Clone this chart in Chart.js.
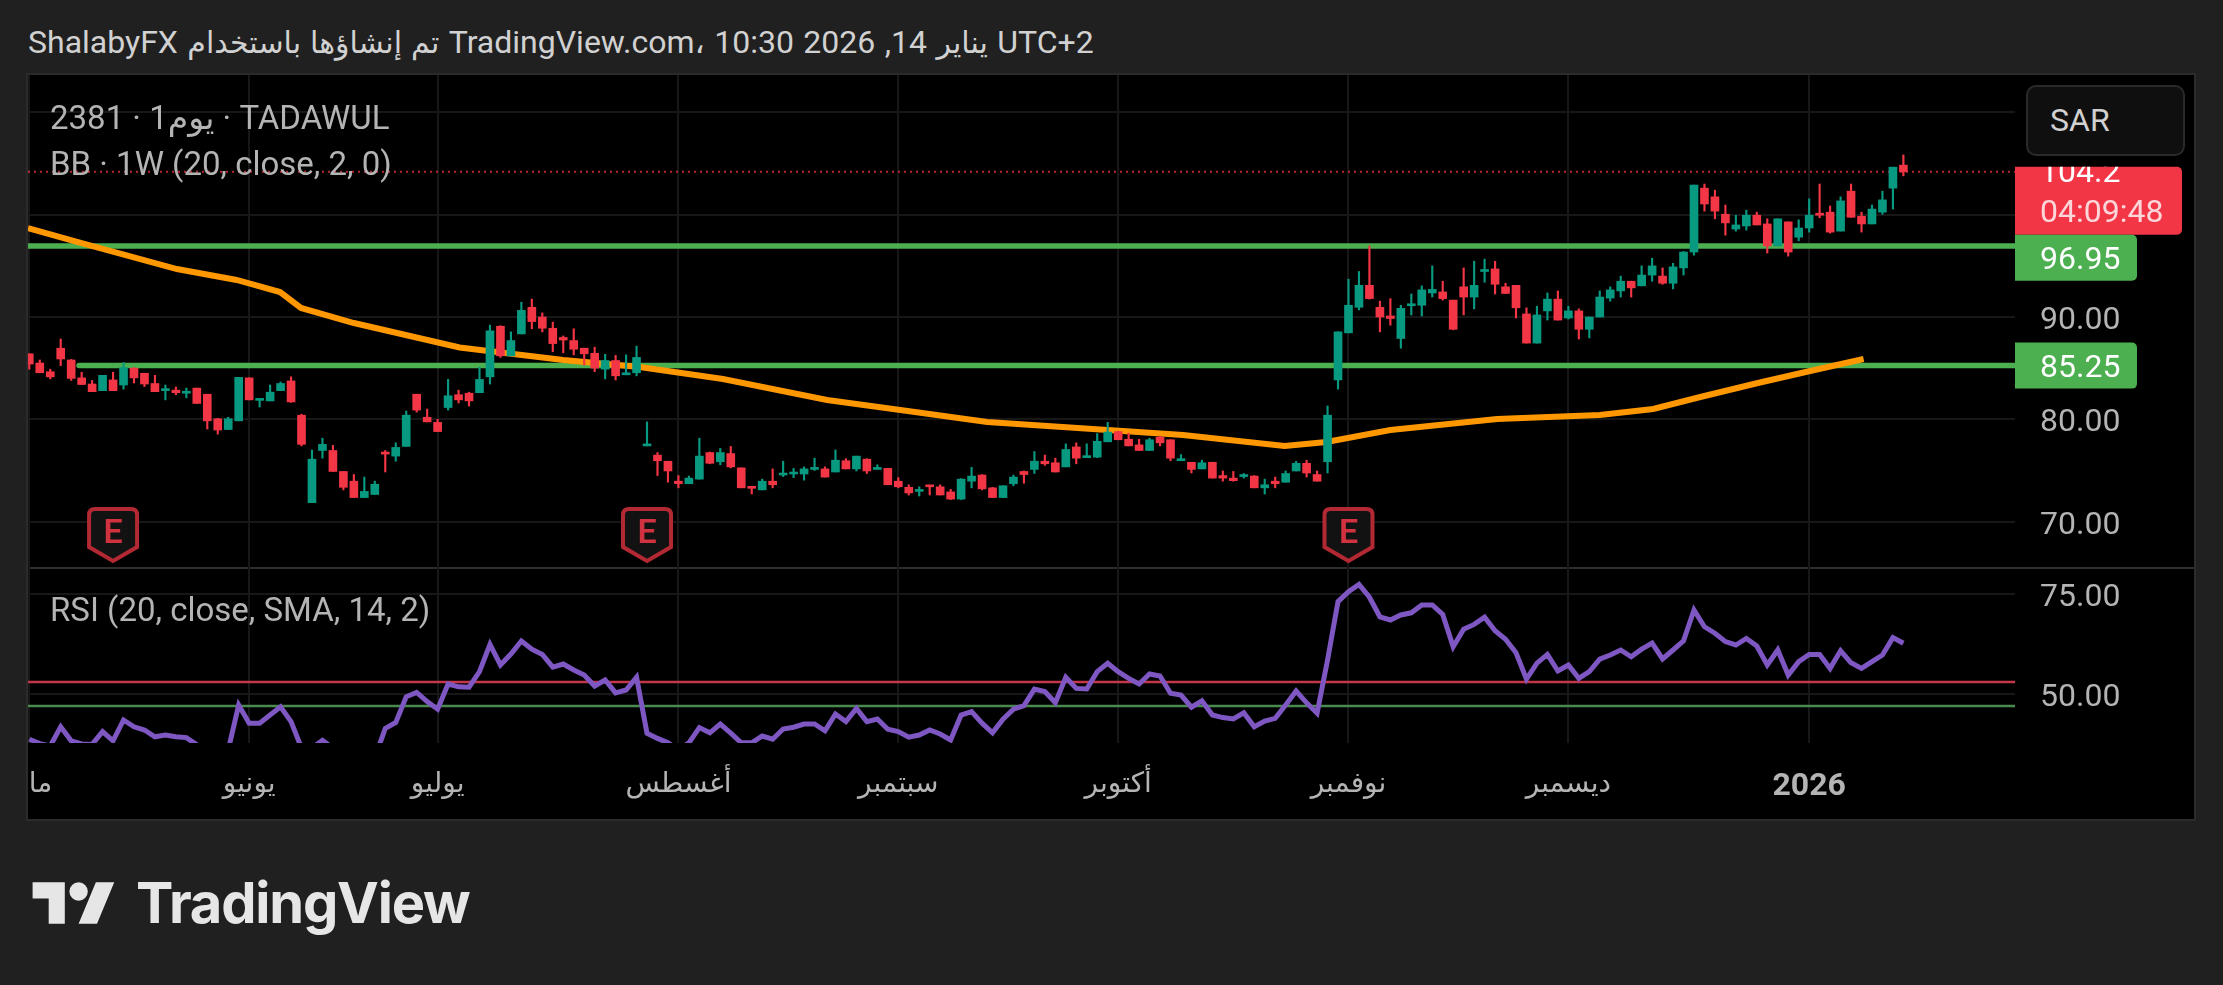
<!DOCTYPE html>
<html>
<head>
<meta charset="utf-8">
<title>2381 TADAWUL</title>
<script src="https://cdn.jsdelivr.net/npm/chart.js@4"></script>
<style>
    body { margin: 0; width: 2223px; height: 985px; background: #202020; overflow: hidden; font-family: Roboto, "DejaVu Sans", sans-serif; position: relative; }
    #titulo { position: absolute; left: 28px; top: 22px; font-size: 32px; line-height: 40px; color: #d1d1d1; white-space: nowrap; direction: ltr; word-spacing: 1.5px; }
    #titulo span { unicode-bidi: isolate; }
    #titulo .ar { font-size: 30px; }
    #panel { position: absolute; left: 26px; top: 73px; width: 2170px; height: 748px; background: #000; border: 2px solid #2b2b2b; box-sizing: border-box; }
    canvas { position: absolute; left: 28px; }
    #precio { top: 75px; }
    #rsi { top: 567px; }
    .leyenda { position: absolute; left: 50px; font-size: 33px; line-height: 40px; color: #b4b4b4; white-space: nowrap; direction: ltr; }
    #sar { position: absolute; left: 2026px; top: 85px; width: 159px; height: 71px; box-sizing: border-box; background: #0f0f0f; border: 2px solid #2a2a2a; border-radius: 10px; color: #d1d1d1; font-size: 32px; line-height: 67px; padding-left: 22px; }
    #logo { position: absolute; left: 32px; top: 880px; height: 46px; display: flex; align-items: center; color: #e6e6e6; }
    #logo span { font-family: Inter, Roboto, sans-serif; font-weight: 700; font-size: 56px; margin-left: 20px; letter-spacing: -1.2px; }
</style>
</head>
<body>
<div id="titulo"><span>ShalabyFX</span> <span class="ar">تم إنشاؤها باستخدام</span> <span>TradingView.com،</span> <span>10:30 2026 ,14</span> <span class="ar">يناير</span> <span>UTC+2</span></div>
<div id="panel"></div>
<canvas id="precio" width="2166" height="492"></canvas>
<canvas id="rsi" width="2166" height="252"></canvas>
<div class="leyenda" style="top:98px">2381 · 1يوم · TADAWUL</div>
<div class="leyenda" style="top:144px">BB · 1W (20, close, 2, 0)</div>
<div class="leyenda" style="top:590px">RSI (20, close, SMA, 14, 2)</div>
<div id="sar">SAR</div>
<div id="logo">
    <svg width="84" height="46" viewBox="0 3 36 20"><path fill="#e6e6e6" d="M14 22H7V11H0V4h14v18zM28 22h-8l7.5-18h8L28 22z"/><circle fill="#e6e6e6" cx="20" cy="8" r="4"/></svg>
    <span>TradingView</span>
</div>

<script>
const opens = [
    86.4,85.5,84.65,86.95,85.8,84.05,83.45,82.8,83.85,83.35,
    85.0,84.5,83.5,82.8,82.85,82.55,83.05,82.45,80.05,79.0,
    79.85,84.05,81.85,81.8,82.8,83.75,80.4,71.85,76.95,76.95,
    74.9,73.95,72.35,72.65,76.75,76.4,77.35,82.45,80.2,79.7,
    81.15,82.4,82.55,82.6,84.15,89.1,86.2,88.35,90.95,90.0,
    88.9,88.0,87.7,86.95,86.45,84.9,85.75,84.35,84.55,77.4,
    76.5,75.9,73.95,73.7,74.15,76.75,75.85,76.65,75.25,73.4,
    73.1,73.95,74.55,74.65,74.65,75.1,75.15,74.85,75.95,75.15,
    76.1,75.1,75.2,73.95,73.35,72.95,73.55,73.4,72.9,72.2,
    73.95,74.55,73.3,72.35,73.7,74.9,75.1,75.9,75.75,75.35,
    77.3,76.25,76.3,77.8,78.8,78.05,77.5,76.95,78.25,78.0,
    75.95,75.8,75.15,75.8,74.5,74.25,74.4,74.45,73.3,73.95,
    73.85,74.95,75.7,74.6,75.85,83.85,88.45,90.95,93.1,90.95,
    90.1,87.9,91.1,91.15,92.35,92.45,91.65,92.95,91.95,94.45,
    94.7,92.95,93.1,90.3,87.45,90.6,91.75,89.9,90.6,88.8,
    90.0,91.85,92.55,93.5,93.05,94.1,94.0,93.3,94.8,96.35,
    102.6,101.75,100.05,98.6,98.9,99.95,99.1,96.95,99.3,97.8,
    98.7,100.15,100.25,98.4,102.3,99.85,99.1,100.25,102.6,104.85
];
const highs = [
    86.4,85.8,84.9,87.85,85.85,84.6,83.8,84.3,84.6,85.55,
    85.05,84.5,84.3,83.35,83.15,83.05,83.05,82.45,80.1,80.2,
    84.1,84.05,81.95,83.35,83.65,84.15,80.5,77.0,78.15,77.45,
    74.9,74.6,74.35,73.95,76.95,77.7,80.8,82.45,81.0,80.0,
    83.9,82.85,82.65,85.1,89.2,89.15,88.55,91.45,91.75,90.4,
    89.5,88.15,88.85,86.95,87.05,86.35,86.25,86.3,87.15,79.75,
    76.75,75.9,74.5,74.45,78.15,76.8,77.15,77.35,75.25,73.45,
    74.15,75.15,75.9,75.2,75.35,76.2,75.35,77.0,76.15,76.4,
    76.15,75.55,75.2,74.3,73.6,73.4,73.55,73.6,73.15,74.2,
    75.3,74.6,73.35,73.5,74.55,74.95,76.85,76.5,76.2,77.6,
    77.7,77.6,78.6,79.7,78.85,78.65,78.05,78.15,78.35,78.0,
    76.55,75.8,76.0,75.8,74.95,74.9,74.7,74.5,74.15,74.35,
    74.95,75.9,76.0,74.95,81.3,88.55,93.7,94.45,96.95,91.55,
    91.8,91.15,92.25,93.05,95.0,93.5,91.65,94.8,95.45,95.65,
    95.45,93.3,93.1,90.9,91.05,92.35,92.55,91.05,90.8,90.0,
    92.55,92.95,94.0,93.5,95.0,95.75,94.8,95.25,96.4,102.9,
    103.0,102.4,100.95,99.95,100.45,100.25,99.6,99.6,99.3,99.5,
    101.55,103.0,100.85,101.75,103.0,100.25,100.95,102.3,104.65,105.85
];
const lows = [
    84.9,84.55,83.95,85.25,83.8,83.4,82.7,82.8,82.8,82.95,
    83.55,83.2,82.7,81.9,82.4,82.1,81.55,79.05,78.55,79.0,
    79.85,81.9,81.2,81.8,82.8,81.65,77.4,71.85,76.2,74.9,
    73.1,72.35,72.35,72.65,74.85,75.9,77.35,80.7,79.75,78.8,
    80.9,81.6,81.3,82.6,83.45,86.05,86.2,88.35,88.85,88.55,
    86.6,86.5,86.3,85.3,84.65,83.95,83.85,84.35,84.25,77.4,
    74.5,73.85,73.3,73.7,74.15,75.65,75.55,75.25,73.3,72.7,
    73.1,73.3,74.4,74.3,74.05,75.0,74.35,74.85,75.15,74.95,
    74.7,75.1,73.6,73.3,72.6,72.5,72.6,72.6,72.15,72.15,
    73.3,73.1,72.35,72.35,73.5,73.75,74.7,75.5,74.85,75.35,
    75.65,76.25,76.25,77.8,78.0,77.4,76.95,76.95,77.4,75.95,
    75.95,74.75,75.15,74.25,73.95,73.95,74.25,73.3,72.7,73.3,
    73.85,74.95,74.35,73.95,74.75,82.95,88.45,90.7,91.75,88.55,
    89.2,86.95,90.2,90.1,91.95,91.65,88.75,90.2,90.8,93.4,
    92.25,92.3,89.9,87.45,87.45,89.7,89.7,89.8,87.85,87.95,
    90.0,91.55,91.95,91.95,93.05,93.5,93.2,92.75,94.1,96.05,
    100.35,99.6,98.0,98.4,98.5,99.0,96.25,96.95,95.95,97.45,
    98.3,99.7,98.2,98.4,99.75,98.3,99.1,100.05,100.55,103.8
];
const closes = [
    85.4,84.55,84.15,85.9,84.0,83.4,82.7,84.3,82.8,85.05,
    84.05,83.45,82.7,82.95,82.6,82.65,81.55,79.85,78.95,80.05,
    84.1,81.9,81.95,82.65,83.5,81.7,77.55,76.1,77.55,74.9,
    73.35,72.35,72.95,73.65,76.6,77.25,80.4,80.9,79.75,78.8,
    82.3,81.9,81.8,83.9,88.65,86.2,87.7,90.65,89.55,88.9,
    87.4,87.75,86.85,86.4,85.0,85.75,84.25,84.55,86.05,77.5,
    75.95,74.95,73.7,74.25,76.4,75.7,76.75,75.35,73.3,73.25,
    73.95,73.6,74.7,74.8,75.15,75.2,74.35,76.0,75.15,76.4,
    74.95,75.25,73.6,73.4,72.8,73.1,73.4,72.6,72.2,74.15,
    74.45,73.2,72.35,73.5,74.35,74.6,75.9,75.65,74.85,77.05,
    76.2,76.35,77.85,78.75,78.0,77.4,76.95,78.0,77.7,76.2,
    76.15,75.1,75.75,74.25,74.25,74.0,74.5,73.3,73.6,73.7,
    74.7,75.7,74.75,73.95,80.4,88.55,91.15,93.1,91.8,90.0,
    89.85,90.85,91.25,92.65,92.7,91.8,88.8,91.95,93.1,94.6,
    93.2,92.3,90.9,87.45,90.2,91.75,89.7,90.6,88.8,90.0,
    91.95,92.65,93.5,92.85,94.1,95.0,93.3,94.9,96.35,102.9,
    101.05,100.35,99.2,99.0,99.95,99.0,96.95,99.6,96.35,98.7,
    99.95,99.95,98.3,101.35,99.75,99.1,100.55,101.45,104.65,104.2
];
const rsiValues = [
    38.7,37.6,37,41.8,38.3,37.5,37.4,40.6,38.3,43.5,
    41.8,41,39.3,39.75,39.3,39.1,37.3,35,34,36,
    47.25,42.7,42.7,44.75,46.8,43.1,36.5,36.5,38.4,36.5,
    35,33.5,33,34,41.4,42.9,49.3,50.4,48.1,46.2,
    52.5,51.8,51.7,55.6,62.4,57.25,60,63.25,61.2,59.9,
    56.7,57.5,56,54.75,52,53.5,50.3,51,54.2,40.2,
    38.9,37.8,36,37.8,41.6,40.3,42.5,40.2,37.8,37.8,
    39.5,38.7,41.25,41.7,42.5,42.5,40.8,45,43.1,46.4,
    43.1,43.75,41.2,40.6,39.2,39.75,41,40,38.5,44.75,
    45.6,42.7,40.3,43.7,46.2,47.1,51.2,50.6,47.8,54.2,
    51.4,51.25,55.6,57.7,55.6,53.9,52.5,55,54.5,50.2,
    49.75,46.7,48.3,44.75,44.1,43.75,45.3,41.8,43.25,43.9,
    47.25,50.75,47.8,45.2,58.5,73.1,75.6,77.4,74.2,69.3,
    68.5,69.75,70.3,72.25,72.25,69.9,61.8,66.2,67.4,69.2,
    65.8,63.7,60.3,53.7,57.7,59.9,55.75,57.25,53.9,55.6,
    58.7,59.75,61,59.3,61.2,62.7,58.75,61,63.3,71,
    66.8,65.2,63.1,62.25,63.9,62,57.25,61,54.75,58.1,
    59.9,59.9,56.4,60.8,57.8,56.4,58.1,59.75,64.1,62.7
];
// la banda semanal solo cambia de pendiente cada pocas velas
const bbX = [-0.12,4.65,14.1,19.8,23.95,25.95,31,41.1,51,58.3,66.25,76.2,83.2,91.5,103,110.2,119.9,123.9,130,140.2,150,155.1,159.6,165.1,170.5,175.2];
const bbY = [98.7,97.33,94.69,93.62,92.44,90.88,89.41,87.02,85.8,85.11,83.94,81.89,80.91,79.74,78.95,78.47,77.39,77.78,78.95,80.03,80.42,81.01,82.18,83.55,84.82,85.89];

const monthIndex = [0,21,39,62,83,104,126,147,170];
const monthLabels = ['مايو','يونيو','يوليو','أغسطس','سبتمبر','أكتوبر','نوفمبر','ديسمبر','2026'];
const priceTicks = [70,80,90,100,110];
const rsiTicks = [50,75];
const earningsIndex = [8,59,126];
const lastPrice = 104.2;
const countdown = '04:09:48';
const upperLevel = 96.95;
const lowerLevel = 85.25;
const lowerLevelStart = 4.75;
const rsiUpper = 53;
const rsiLower = 47;

const xMin = -0.124;
const xMax = 189.66;
const verde = '#089981';
const rojo = '#f23645';
const fuente = 'Roboto, "DejaVu Sans", sans-serif';
const colorVela = i => closes[i] >= opens[i] ? verde : rojo;

function tick(values) {
    return values.map(v => ({ value: v }));
}

// sin relleno de etiquetas: el area del grafico ocupa todo el panel
function sinRelleno(s) {
    s.paddingLeft = s.paddingRight = s.paddingTop = s.paddingBottom = 0;
}

function fuenteMes(c) {
    const esAnio = c.tick && c.tick.value === 170;
    return { family: fuente, size: esAnio ? 32 : 28, weight: esAnio ? 'bold' : 'normal' };
}

function ejeX(mostrarTexto) {
    return {
        type: 'linear',
        min: xMin,
        max: xMax,
        offset: false,
        afterBuildTicks: s => { s.ticks = tick(monthIndex); },
        afterFit: s => { s.height = mostrarTexto ? 76 : 0; sinRelleno(s); },
        border: { display: false },
        grid: { color: '#171717', lineWidth: 2, drawTicks: false, offset: false },
        ticks: {
            display: mostrarTexto,
            autoSkip: false,
            maxRotation: 0,
            padding: 25,
            color: '#b4b4b4',
            font: fuenteMes,
            callback: v => monthLabels[monthIndex.indexOf(v)]
        }
    };
}

function ejeY(min, max, valores) {
    return {
        position: 'right',
        min: min,
        max: max,
        afterBuildTicks: s => { s.ticks = tick(valores); },
        afterFit: s => { s.width = 179; sinRelleno(s); },
        border: { display: false },
        grid: { color: '#171717', lineWidth: 2, drawTicks: false },
        ticks: {
            padding: 25,
            labelOffset: 4,
            color: '#b4b4b4',
            font: { family: fuente, size: 32 },
            callback: v => (v === 100 || v === 110) ? '' : v.toFixed(2)
        }
    };
}

function etiqueta(ctx, x, y, w, h, color) {
    ctx.fillStyle = color;
    ctx.beginPath();
    ctx.roundRect(x, y, w, h, [0, 5, 5, 0]);
    ctx.fill();
}

const etiquetas = {
    id: 'etiquetas',
    afterDraw(chart) {
        const { ctx, scales: { x, y } } = chart;
        const right = chart.chartArea.right;
        ctx.save();

        // marcas de resultados
        earningsIndex.forEach(i => {
            const cx = x.getPixelForValue(i);
            const top = 434;
            ctx.beginPath();
            ctx.moveTo(cx - 24, top + 6);
            ctx.quadraticCurveTo(cx - 24, top, cx - 18, top);
            ctx.lineTo(cx + 18, top);
            ctx.quadraticCurveTo(cx + 24, top, cx + 24, top + 6);
            ctx.lineTo(cx + 24, top + 38);
            ctx.lineTo(cx, top + 52);
            ctx.lineTo(cx - 24, top + 38);
            ctx.closePath();
            ctx.fillStyle = '#121212';
            ctx.fill();
            ctx.lineWidth = 4;
            ctx.strokeStyle = '#b22833';
            ctx.stroke();
            ctx.fillStyle = '#d0323f';
            ctx.font = '600 34px ' + fuente;
            ctx.textAlign = 'center';
            ctx.textBaseline = 'middle';
            ctx.fillText('E', cx, top + 25);
        });

        ctx.textAlign = 'left';
        ctx.textBaseline = 'middle';
        ctx.font = '32px ' + fuente;

        // el precio queda recortado por arriba, como en la captura
        const yPrecio = y.getPixelForValue(lastPrice);
        etiqueta(ctx, right, yPrecio - 5, 167, 68, rojo);
        ctx.save();
        ctx.beginPath();
        ctx.rect(right, yPrecio - 5, 167, 68);
        ctx.clip();
        ctx.fillStyle = '#fff';
        ctx.fillText(lastPrice.toFixed(1), right + 25, yPrecio + 2);
        ctx.restore();
        ctx.fillStyle = 'rgba(255,255,255,0.8)';
        ctx.fillText(countdown, right + 25, yPrecio + 42);

        // la etiqueta superior queda empujada hacia abajo por la del precio
        const yArriba = Math.max(y.getPixelForValue(upperLevel) - 23, yPrecio + 63);
        const yAbajo = y.getPixelForValue(lowerLevel) - 23;
        [[upperLevel, yArriba], [lowerLevel, yAbajo]].forEach(([nivel, top]) => {
            etiqueta(ctx, right, top, 122, 46, '#4caf50');
            ctx.fillStyle = '#fff';
            ctx.fillText(nivel.toFixed(2), right + 25, top + 26);
        });
        ctx.restore();
    }
};

new Chart(document.getElementById('precio'), {
    data: {
        datasets: [
            {
                type: 'bar',
                order: 1,
                grouped: false,
                barThickness: 8,
                minBarLength: 2,
                data: opens.map((o, i) => ({ x: i, y: [o, closes[i]] })),
                backgroundColor: opens.map((o, i) => colorVela(i))
            },
            {
                type: 'bar',
                order: 2,
                grouped: false,
                barThickness: 1.5,
                data: lows.map((l, i) => ({ x: i, y: [l, highs[i]] })),
                backgroundColor: opens.map((o, i) => colorVela(i))
            },
            {
                type: 'line',
                order: 3,
                data: bbX.map((x, i) => ({ x: x, y: bbY[i] })),
                borderColor: '#ff9800',
                borderWidth: 6,
                pointRadius: 0
            },
            {
                type: 'line',
                order: 4,
                data: [{ x: xMin, y: upperLevel }, { x: xMax, y: upperLevel }],
                borderColor: '#4caf50',
                borderWidth: 5.5,
                pointRadius: 0
            },
            {
                type: 'line',
                order: 4,
                data: [{ x: lowerLevelStart, y: lowerLevel }, { x: xMax, y: lowerLevel }],
                borderColor: '#4caf50',
                borderWidth: 5.5,
                borderCapStyle: 'round',
                pointRadius: 0
            },
            {
                type: 'line',
                order: 5,
                data: [{ x: xMin, y: lastPrice }, { x: xMax, y: lastPrice }],
                borderColor: 'rgba(242,54,69,0.75)',
                borderWidth: 2,
                borderDash: [2, 4],
                pointRadius: 0
            }
        ]
    },
    options: {
        responsive: false,
        animation: false,
        events: [],
        layout: { padding: 0 },
        plugins: { legend: { display: false }, tooltip: { enabled: false } },
        scales: { x: ejeX(false), y: ejeY(65.56, 113.66, priceTicks) }
    },
    plugins: [etiquetas]
});

new Chart(document.getElementById('rsi'), {
    type: 'line',
    data: {
        datasets: [
            {
                order: 1,
                clip: 0,
                data: rsiValues.map((v, i) => ({ x: i, y: v })),
                borderColor: '#7e57c2',
                borderWidth: 5,
                pointRadius: 0
            },
            {
                order: 2,
                data: [{ x: xMin, y: rsiUpper }, { x: xMax, y: rsiUpper }],
                borderColor: '#c2374a',
                borderWidth: 2.5,
                pointRadius: 0
            },
            {
                order: 2,
                data: [{ x: xMin, y: rsiLower }, { x: xMax, y: rsiLower }],
                borderColor: '#4a8a4f',
                borderWidth: 2.5,
                pointRadius: 0
            }
        ]
    },
    options: {
        responsive: false,
        animation: false,
        events: [],
        layout: { padding: 0 },
        plugins: {
            legend: { display: false },
            tooltip: { enabled: false }
        },
        scales: { x: ejeX(true), y: ejeY(37.75, 81.75, rsiTicks) }
    },
    plugins: [{
        id: 'divisor',
        beforeDraw(chart) {
            const { ctx, width } = chart;
            ctx.fillStyle = '#2e2e2e';
            ctx.fillRect(0, 0, width, 2);
        }
    }]
});
</script>
</body>
</html>
